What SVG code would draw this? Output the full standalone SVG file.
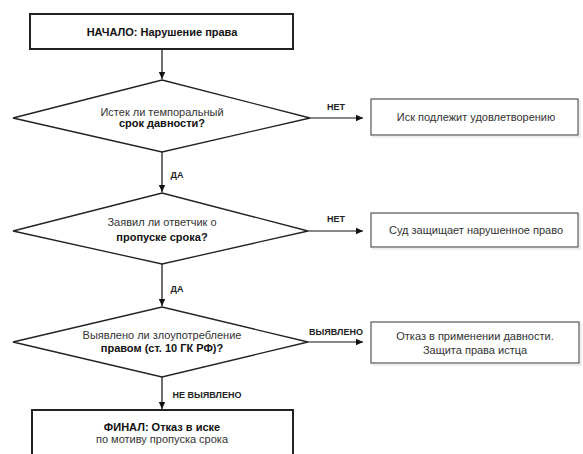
<svg xmlns="http://www.w3.org/2000/svg" width="583" height="454" viewBox="0 0 583 454">
<style>
text{font-family:"Liberation Sans",Arial,sans-serif;font-size:11px;fill:#333;text-anchor:middle}
.b{font-weight:bold;fill:#111}
.lbl{font-size:9px;font-weight:bold;fill:#222}
.main{fill:#fff;stroke:#222;stroke-width:2}
.dia{fill:#fff;stroke:#222;stroke-width:1.3}
.res{fill:#fff;stroke:#555;stroke-width:1.2}
.sh{fill:none;stroke:#ddd;stroke-width:1}
.c{stroke:#111;stroke-width:1.2;fill:none;marker-end:url(#ah)}
</style>
<defs>
<marker id="ah" markerWidth="8" markerHeight="8" refX="7" refY="4" orient="auto" markerUnits="userSpaceOnUse">
<path d="M0,0.8 L7,4 L0,7.2 Z" fill="#111"/>
</marker>
</defs>
<rect width="583" height="454" fill="#fff"/>
<g id="connectors">
<line class="c" x1="162" y1="49" x2="162" y2="79"/>
<line class="c" x1="162" y1="152" x2="162" y2="192"/>
<line class="c" x1="310" y1="118" x2="363" y2="118"/>
<line class="c" x1="162" y1="264" x2="162" y2="306"/>
<line class="c" x1="308" y1="231" x2="363" y2="231"/>
<line class="c" x1="162" y1="377" x2="162" y2="409"/>
<line class="c" x1="308" y1="342" x2="363" y2="342"/>
<text class="lbl" x="336" y="110">НЕТ</text>
<text class="lbl" x="177" y="178" text-anchor="middle">ДА</text>
<text class="lbl" x="336" y="222">НЕТ</text>
<text class="lbl" x="177" y="292">ДА</text>
<text class="lbl" x="336" y="335">ВЫЯВЛЕНО</text>
<text class="lbl" x="207" y="398">НЕ ВЫЯВЛЕНО</text>
</g>
<g id="start">
<rect class="main" x="30" y="14" width="263" height="35"/>
<text class="b" x="162" y="36">НАЧАЛО: Нарушение права</text>
</g>
<g id="q1">
<polygon class="dia" points="162,80 310,118 162,152 13,118"/>
<text x="162" y="116">Истек ли темпоральный</text>
<text class="b" x="162" y="127">срок давности?</text>
</g>
<g id="r1">
<rect class="sh" x="373" y="101" width="207" height="36"/>
<rect class="res" x="371" y="99" width="207" height="36"/>
<text x="476" y="121">Иск подлежит удовлетворению</text>
</g>
<g id="q2">
<polygon class="dia" points="162,193 308,231 162,264 13,231"/>
<text x="162" y="226">Заявил ли ответчик о</text>
<text class="b" x="162" y="241">пропуске срока?</text>
</g>
<g id="r2">
<rect class="sh" x="373" y="215" width="207" height="34"/>
<rect class="res" x="371" y="213" width="207" height="34"/>
<text x="476" y="234">Суд защищает нарушенное право</text>
</g>
<g id="q3">
<polygon class="dia" points="162,307 308,342 162,377 13,342"/>
<text x="162" y="339">Выявлено ли злоупотребление</text>
<text class="b" x="162" y="352">правом (ст. 10 ГК РФ)?</text>
</g>
<g id="r3">
<rect class="sh" x="373" y="324" width="208" height="41"/>
<rect class="res" x="371" y="322" width="208" height="41"/>
<text x="475" y="340">Отказ в применении давности.</text>
<text x="475" y="354">Защита права истца</text>
</g>
<g id="final">
<rect class="main" x="32" y="410" width="261" height="50"/>
<text class="b" x="162" y="431">ФИНАЛ: Отказ в иске</text>
<text x="162" y="443">по мотиву пропуска срока</text>
</g>
</svg>
